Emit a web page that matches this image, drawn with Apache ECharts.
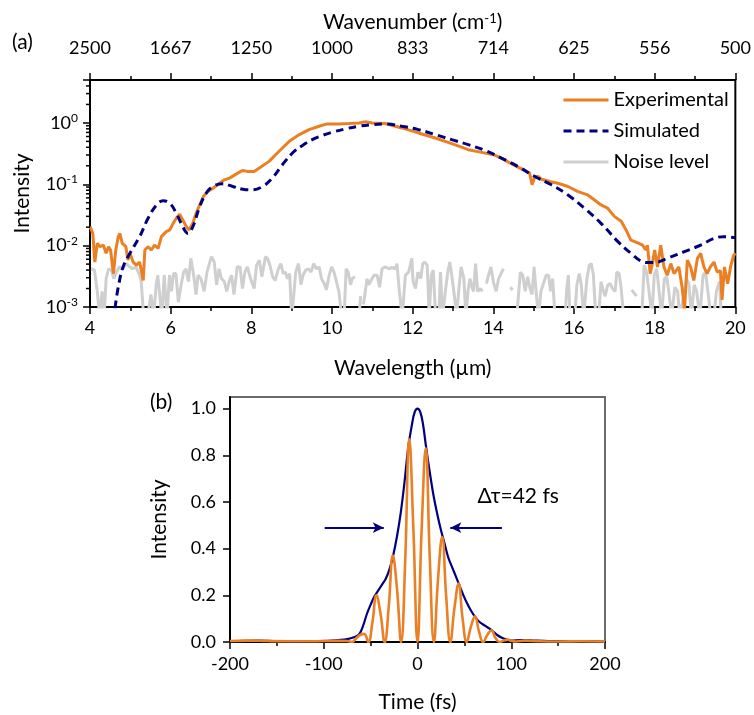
<!DOCTYPE html>
<html>
<head>
<meta charset="utf-8">
<script src="https://cdn.jsdelivr.net/npm/echarts@6/dist/echarts.min.js"></script>
<style>
html,body{margin:0;padding:0;background:#fff;}
#chart{width:754px;height:715px;}
</style>
</head>
<body>
<div id="chart"></div>
<script>
// ---------- Panel (a): spectra ----------
const WL_MIN = 4, WL_MAX = 20;
const wavenumberLabels = [2500, 1667, 1250, 1000, 833, 714, 625, 556, 500];
const logMinorTicks = [0.002,0.003,0.004,0.005,0.006,0.007,0.008,0.009,
  0.02,0.03,0.04,0.05,0.06,0.07,0.08,0.09,
  0.2,0.3,0.4,0.5,0.6,0.7,0.8,0.9, 2,3,4];

const expWl = [4.0,4.07,4.12,4.18,4.25,4.33,4.4,4.46,4.51,4.58,4.64,4.7,4.74,4.8,4.89,4.94,4.99,5.07,5.15,5.23,5.32,5.36,5.44,5.52,5.6,5.69,5.77,5.81,5.89,5.98,6.06,6.14,6.22,6.3,6.39,6.45,6.55,6.63,6.72,6.81,6.92,7.05,7.21,7.33,7.46,7.66,7.79,7.9,8.07,8.28,8.44,8.6,8.77,8.94,9.19,9.43,9.68,9.88,10.17,10.42,10.67,10.83,11.0,11.32,11.73,12.14,12.56,12.97,13.38,13.71,14.0,14.2,14.41,14.61,14.82,14.9,14.96,15.03,15.11,15.19,15.4,15.6,15.85,16.1,16.34,16.5,16.67,16.83,17.0,17.17,17.29,17.41,17.58,17.7,17.78,17.82,17.89,17.95,18.0,18.07,18.15,18.23,18.31,18.4,18.48,18.6,18.68,18.74,18.81,18.89,18.97,19.06,19.14,19.22,19.3,19.38,19.47,19.55,19.63,19.67,19.73,19.81,19.88,19.96,20.0];
const expI = [0.0204,0.0158,0.0054,0.0109,0.0096,0.0102,0.0075,0.0096,0.0085,0.0035,0.0085,0.014,0.0158,0.0109,0.0096,0.0058,0.0075,0.0054,0.0048,0.0054,0.0027,0.0085,0.0096,0.0085,0.0102,0.009,0.014,0.0149,0.0169,0.018,0.0231,0.0279,0.0324,0.0262,0.0204,0.018,0.0231,0.0337,0.046,0.063,0.076,0.086,0.104,0.118,0.126,0.152,0.168,0.162,0.162,0.2,0.236,0.303,0.39,0.501,0.644,0.778,0.882,0.963,0.963,0.975,1.0,1.04,1.0,0.975,0.828,0.686,0.568,0.459,0.366,0.331,0.303,0.267,0.222,0.19,0.162,0.152,0.098,0.134,0.134,0.121,0.111,0.104,0.092,0.076,0.067,0.056,0.046,0.041,0.030,0.025,0.018,0.0123,0.0111,0.0102,0.0085,0.0102,0.0035,0.0054,0.0085,0.0045,0.0102,0.0045,0.0033,0.0051,0.0035,0.0045,0.0021,0.0009,0.0058,0.0045,0.0027,0.0062,0.0075,0.0045,0.0035,0.0045,0.0054,0.0037,0.0039,0.0013,0.0045,0.0024,0.0045,0.007,0.0075];

const simWl = [4.62,4.7,4.82,4.99,5.23,5.44,5.65,5.81,5.98,6.14,6.26,6.43,6.55,6.72,6.88,7.05,7.29,7.54,7.79,8.03,8.28,8.52,8.77,9.02,9.26,9.51,9.77,10.0,10.33,10.67,11.0,11.32,11.73,12.14,12.56,12.97,13.38,13.79,14.2,14.61,15.03,15.44,15.85,16.26,16.67,17.09,17.41,17.66,17.86,18.07,18.31,18.72,19.14,19.47,19.71,20.0];
const simI = [0.00095,0.0021,0.0045,0.0075,0.014,0.0279,0.046,0.054,0.049,0.0337,0.0231,0.0158,0.0204,0.0433,0.0715,0.092,0.102,0.092,0.083,0.081,0.092,0.126,0.208,0.323,0.426,0.533,0.628,0.703,0.798,0.882,0.939,0.963,0.882,0.778,0.644,0.533,0.442,0.357,0.267,0.195,0.134,0.098,0.067,0.0406,0.0231,0.0116,0.0075,0.0056,0.0053,0.0054,0.0062,0.0079,0.0102,0.0131,0.014,0.0135];

// [wavelength, intensity]; null = no value (gap)
const noise = [[4.03,0.0042],[4.11,0.0040],[4.18,0.0018],[4.24,0.0007],[4.30,0.0018],[4.35,0.0007],[4.40,0.0029],[4.46,0.0042],[4.53,0.0040],[4.59,0.0029],[4.65,0.0037],[4.73,0.0045],[4.81,0.0042],[4.90,0.0051],[4.98,0.0045],[5.06,0.0042],[5.14,0.0045],[5.23,0.0033],[5.27,0.0026],[5.33,0.0007],[5.43,0.0007],[5.51,0.0016],[5.58,0.0007],[5.64,0.0023],[5.68,0.0033],[5.72,0.0018],[5.78,0.0007],[5.84,0.0033],[5.91,0.0007],[5.97,0.0033],[6.02,0.0018],[6.07,0.0035],[6.13,0.0035],[6.19,0.0012],[6.26,0.0023],[6.32,0.0037],[6.38,0.0042],[6.44,0.0026],[6.50,0.0062],[6.57,0.0033],[6.63,0.0016],[6.68,0.0033],[6.75,0.0029],[6.83,0.0018],[6.90,0.0037],[6.95,0.0048],[7.01,0.0066],[7.08,0.0054],[7.14,0.0023],[7.20,0.0042],[7.26,0.0029],[7.33,0.0026],[7.39,0.0018],[7.45,0.0026],[7.51,0.0033],[7.57,0.0016],[7.65,0.0045],[7.72,0.0045],[7.78,0.0020],[7.84,0.0037],[7.90,0.0045],[7.98,0.0029],[8.07,0.0020],[8.13,0.0048],[8.20,0.0058],[8.26,0.0031],[8.35,0.0066],[8.40,0.0062],[8.46,0.0048],[8.53,0.0031],[8.59,0.0027],[8.66,0.0040],[8.73,0.0051],[8.79,0.0035],[8.84,0.0037],[8.90,0.0029],[8.95,0.0035],[9.00,0.0007],[9.06,0.0018],[9.10,0.0037],[9.17,0.0051],[9.23,0.0023],[9.28,0.0033],[9.35,0.0040],[9.42,0.0042],[9.48,0.0037],[9.55,0.0051],[9.61,0.0042],[9.68,0.0045],[9.74,0.0029],[9.81,0.0024],[9.86,0.0019],[9.93,0.0033],[9.99,0.0045],[10.05,0.0037],[10.11,0.0026],[10.17,0.0018],[10.24,0.0007],[10.30,0.0007],[10.35,0.0042],[10.40,0.0037],[10.46,0.0023],[10.50,0.0029],[10.57,0.0031],[10.62,null],[10.67,0.0007],[10.71,0.0015],[10.74,null],[10.78,0.0011],[10.87,0.0029],[10.91,0.0023],[11.04,0.0033],[11.12,0.0033],[11.18,0.0021],[11.24,0.0042],[11.32,0.0045],[11.41,0.0042],[11.49,0.0044],[11.57,0.0042],[11.61,0.0051],[11.67,0.0018],[11.74,0.0007],[11.82,0.0033],[11.90,0.0037],[11.98,0.0062],[12.01,0.0026],[12.07,0.0020],[12.13,0.0037],[12.20,0.0029],[12.25,0.0051],[12.30,0.0054],[12.36,0.0048],[12.41,0.0007],[12.46,0.0033],[12.51,0.0040],[12.57,0.0007],[12.65,0.0007],[12.69,0.0037],[12.74,0.0007],[12.81,0.0018],[12.87,0.0037],[12.92,0.0054],[12.98,0.0029],[13.04,0.0014],[13.09,0.0007],[13.14,0.0018],[13.20,0.0045],[13.27,0.0029],[13.32,0.0007],[13.37,0.0018],[13.42,0.0029],[13.47,0.0021],[13.51,0.0018],[13.56,0.0051],[13.61,0.0018],[13.68,0.0020],[13.73,0.0018],[13.78,null],[13.83,0.0024],[13.88,0.0033],[13.94,0.0045],[14.01,0.0024],[14.07,0.0018],[14.13,0.0029],[14.19,0.0035],[14.25,0.0042],[14.32,null],[14.42,0.0021],[14.48,0.0019],[14.52,null],[14.58,0.0007],[14.67,0.0037],[14.73,0.0033],[14.79,0.0018],[14.85,0.0031],[14.91,0.0020],[14.96,0.0016],[15.01,0.0045],[15.06,0.0018],[15.12,0.0007],[15.18,0.0018],[15.24,0.0024],[15.31,0.0033],[15.37,0.0033],[15.42,0.0018],[15.47,0.0029],[15.53,0.0007],[15.78,0.0007],[15.82,0.0020],[15.86,0.0033],[15.90,0.0007],[16.02,0.0007],[16.07,0.0023],[16.13,0.0035],[16.18,0.0023],[16.24,0.0007],[16.32,0.0029],[16.38,0.0048],[16.43,0.0051],[16.48,0.0033],[16.54,0.0007],[16.61,0.0007],[16.67,0.0026],[16.73,0.0018],[16.77,0.0015],[16.84,0.0023],[16.90,0.0024],[16.95,0.0020],[17.02,0.0018],[17.06,0.0037],[17.12,0.0035],[17.17,0.0020],[17.23,0.0007],[17.30,null],[17.43,0.0019],[17.55,0.0015],[17.60,null],[17.68,0.0007],[17.74,0.0048],[17.80,0.0037],[17.86,0.0018],[17.93,0.0007],[17.99,0.0033],[18.05,0.0042],[18.11,0.0018],[18.17,0.0007],[18.24,0.0029],[18.30,0.0031],[18.35,0.0018],[18.42,0.0007],[18.50,0.0021],[18.57,0.0018],[18.62,0.0007],[18.71,0.0014],[18.79,0.0029],[18.85,0.0024],[18.91,0.0007],[18.98,0.0023],[19.04,0.0018],[19.12,0.0007],[19.20,0.0033],[19.26,0.0037],[19.32,0.0018],[19.39,0.0007],[19.47,0.0007],[19.53,0.0018],[19.61,0.0026],[19.65,0.0007],[19.70,null]];

// ---------- Panel (b): temporal profile ----------
const envelope = [[-200,0.003],[-185,0.005],[-170,0.006],[-150,0.004],[-130,0.003],[-110,0.004],[-95,0.005],[-85,0.008],[-75,0.012],[-68,0.02],[-62,0.035],[-58,0.07],[-54,0.12],[-50,0.16],[-46,0.195],[-42,0.22],[-38,0.245],[-34,0.27],[-30,0.31],[-26,0.37],[-22,0.45],[-18,0.55],[-14,0.68],[-10,0.83],[-6,0.93],[-3,0.985],[0,1.0],[3,0.985],[6,0.93],[9,0.84],[13,0.73],[17,0.63],[21,0.55],[25,0.48],[29,0.42],[33,0.36],[37,0.32],[41,0.28],[45,0.24],[49,0.2],[53,0.165],[57,0.135],[61,0.11],[65,0.09],[70,0.075],[75,0.062],[80,0.048],[85,0.03],[90,0.018],[95,0.01],[100,0.006],[110,0.008],[120,0.007],[140,0.004],[160,0.004],[180,0.003],[200,0.002]];
const fringe = [[-200,0.004],[-180,0.006],[-160,0.004],[-140,0.003],[-120,0.003],[-100,0.004],[-85,0.005],[-75,0.004],[-70,0],[-65.6,0.015],[-61.3,0.03],[-56.9,0.035],[-52.5,0],[-48.1,0.085],[-43.8,0.2],[-39.4,0.12],[-35,0],[-30.6,0.155],[-26.3,0.37],[-21.9,0.23],[-17.5,0],[-13.1,0.35],[-8.8,0.87],[-4.4,0.485],[0,0],[4.4,0.48],[8.8,0.83],[13.1,0.36],[17.5,0],[21.9,0.27],[26.3,0.45],[30.6,0.195],[35,0],[39.4,0.145],[43.8,0.25],[48.1,0.1],[52.5,0],[56.9,0.065],[61.3,0.11],[65.6,0.045],[70,0],[74.4,0.03],[78.8,0.05],[83.1,0.018],[87.5,0],[91.9,0.006],[96.3,0.01],[100.6,0.004],[105,0.002],[115,0.006],[130,0.003],[150,0.002],[175,0.003],[200,0.002]];
const yTicksB = [0, 0.2, 0.4, 0.6, 0.8, 1.0];
const arrowLeft = [[-99, 0.49], [-36, 0.49]];
const arrowRight = [[90, 0.49], [35, 0.49]];
const widthLabelPos = [64, 0.625];
const widthLabel = 'Δτ=42 fs';

// ---------- styling ----------
const FONT = 'Lato';
const ORANGE = '#EB7F24';
const NAVY = '#000080';
const GRAY = '#CFCFCF';
const BLACK = '#000';
const axLine = {show: true, onZero: false, lineStyle: {color: BLACK, width: 2}};
const tickMajor = {show: true, length: 7, lineStyle: {color: BLACK, width: 1.5}};
const tickMinor = {show: true, length: 4, lineStyle: {color: BLACK, width: 1.5}};
const lblStyle = {color: BLACK, fontSize: 18, fontFamily: FONT};
const nameStyle = {color: BLACK, fontSize: 21, fontFamily: FONT};

const chart = echarts.init(document.getElementById('chart'), null, {renderer: 'canvas'});

const option = {
  animation: false,
  backgroundColor: '#fff',
  textStyle: {fontFamily: FONT},
  grid: [
    {left: 90, top: 80, width: 648, height: 227, show: true, borderColor: BLACK, borderWidth: 2, backgroundColor: 'transparent'},
    {left: 230, top: 397, width: 375, height: 245, show: true, borderColor: '#6b6b6b', borderWidth: 2, backgroundColor: 'transparent'}
  ],
  legend: {
    data: ['Experimental', 'Simulated', 'Noise level'],
    orient: 'vertical', left: 562, top: 89, padding: 0,
    itemWidth: 45, itemHeight: 14, itemGap: 9,
    itemStyle: {opacity: 0},
    lineStyle: {width: 3},
    textStyle: {fontSize: 20, fontFamily: FONT, color: BLACK, lineHeight: 22},
    selectedMode: false
  },
  xAxis: [
    {gridIndex: 0, type: 'value', min: WL_MIN, max: WL_MAX, interval: 2, position: 'bottom',
      name: 'Wavelength (µm)', nameLocation: 'middle', nameGap: 51, nameTextStyle: nameStyle,
      axisLine: axLine, axisTick: tickMajor, minorTick: Object.assign({splitNumber: 2}, tickMinor),
      axisLabel: Object.assign({margin: 12}, lblStyle), splitLine: {show: false}, minorSplitLine: {show: false}},
    {gridIndex: 0, type: 'value', min: WL_MIN, max: WL_MAX, interval: 2, position: 'top',
      name: 'Wavenumber (cm{s|-1})', nameLocation: 'middle', nameGap: 47,
      nameTextStyle: Object.assign({}, nameStyle, {rich: {s: {fontSize: 13, fontFamily: FONT, color: BLACK, verticalAlign: 'top', lineHeight: 13}}}),
      axisLine: axLine, axisTick: tickMajor, minorTick: Object.assign({splitNumber: 2}, tickMinor),
      axisLabel: Object.assign({margin: 23, formatter: function (v) {
        const i = Math.round((v - WL_MIN) / 2);
        return wavenumberLabels[i] !== undefined ? String(wavenumberLabels[i]) : '';
      }}, lblStyle),
      splitLine: {show: false}},
    {gridIndex: 1, type: 'value', min: -200, max: 200, interval: 100,
      name: 'Time (fs)', nameLocation: 'middle', nameGap: 50, nameTextStyle: nameStyle,
      axisLine: axLine, axisTick: tickMajor, minorTick: Object.assign({splitNumber: 2}, tickMinor),
      axisLabel: Object.assign({margin: 13}, lblStyle), splitLine: {show: false}}
  ],
  yAxis: [
    {gridIndex: 0, type: 'log', logBase: 10, min: 0.001, max: 5,
      name: 'Intensity', nameLocation: 'middle', nameGap: 57, nameTextStyle: nameStyle,
      axisLine: axLine, axisTick: tickMajor,
      axisLabel: {margin: 12, color: BLACK, formatter: function (v) {
        const e = Math.log10(v); const r = Math.round(e);
        if (Math.abs(e - r) > 1e-6) return '';
        return '{b|10}{s|' + r + '}';
      }, rich: {b: {fontSize: 18, fontFamily: FONT, color: BLACK, lineHeight: 22}, s: {fontSize: 12, fontFamily: FONT, color: BLACK, verticalAlign: 'top', lineHeight: 11}}},
      splitLine: {show: false}},
    {gridIndex: 1, type: 'value', min: 0, max: 1.05,
      name: 'Intensity', nameLocation: 'middle', nameGap: 60, nameTextStyle: nameStyle,
      axisLine: axLine, axisTick: Object.assign({customValues: yTicksB}, tickMajor),
      axisLabel: Object.assign({margin: 14, customValues: yTicksB, formatter: function (v) { return v.toFixed(1); }}, lblStyle),
      splitLine: {show: false}}
  ],
  graphic: [
    {type: 'text', left: 12, top: 32, style: {text: '(a)', font: '21px ' + FONT, fill: BLACK}},
    {type: 'text', left: 150, top: 392, style: {text: '(b)', font: '21px ' + FONT, fill: BLACK}}
  ],
  series: [
    {name: 'Noise level', type: 'line', xAxisIndex: 0, yAxisIndex: 0, showSymbol: false, symbol: 'none',
      data: noise, connectNulls: false, lineStyle: {color: GRAY, width: 3}, itemStyle: {color: GRAY}, z: 2},
    {name: 'Experimental', type: 'line', xAxisIndex: 0, yAxisIndex: 0, showSymbol: false, symbol: 'none',
      data: expWl.map((x, i) => [x, expI[i]]), lineStyle: {color: ORANGE, width: 3}, itemStyle: {color: ORANGE}, z: 3},
    {name: 'Simulated', type: 'line', xAxisIndex: 0, yAxisIndex: 0, showSymbol: false, symbol: 'none', smooth: 0.4,
      data: simWl.map((x, i) => [x, simI[i]]), lineStyle: {color: NAVY, width: 3, type: [8, 5]}, itemStyle: {color: NAVY}, z: 4},
    {name: 'logMinorTicks', type: 'custom', xAxisIndex: 0, yAxisIndex: 0, clip: false, silent: true, z: 10,
      data: logMinorTicks.map(v => [WL_MIN, v]),
      renderItem: function (params, api) {
        const p = api.coord([api.value(0), api.value(1)]);
        return {type: 'line', shape: {x1: p[0] - 4, y1: p[1], x2: p[0], y2: p[1]}, style: {stroke: BLACK, lineWidth: 1.5}};
      }},
    {name: 'Envelope', type: 'line', xAxisIndex: 2, yAxisIndex: 1, showSymbol: false, symbol: 'none', smooth: 0.4,
      data: envelope, lineStyle: {color: NAVY, width: 2.2}, itemStyle: {color: NAVY}, z: 3,
      markLine: {silent: true, symbol: ['none', 'arrow'], symbolSize: [8, 11], label: {show: false},
        lineStyle: {color: NAVY, width: 2, type: 'solid'},
        data: [
          [{coord: arrowLeft[0]}, {coord: arrowLeft[1]}],
          [{coord: arrowRight[0]}, {coord: arrowRight[1]}]
        ]},
      markPoint: {silent: true, symbol: 'circle', symbolSize: 0, itemStyle: {color: 'transparent'},
        label: {show: true, position: 'right', distance: 0, formatter: widthLabel, fontSize: 21, fontFamily: FONT, color: BLACK},
        data: [{coord: widthLabelPos}]}},
    {name: 'Pulse', type: 'line', xAxisIndex: 2, yAxisIndex: 1, showSymbol: false, symbol: 'none', smooth: 0.45,
      data: fringe, lineStyle: {color: ORANGE, width: 2.6}, itemStyle: {color: ORANGE}, z: 4}
  ]
};
chart.setOption(option);
</script>
</body>
</html>
